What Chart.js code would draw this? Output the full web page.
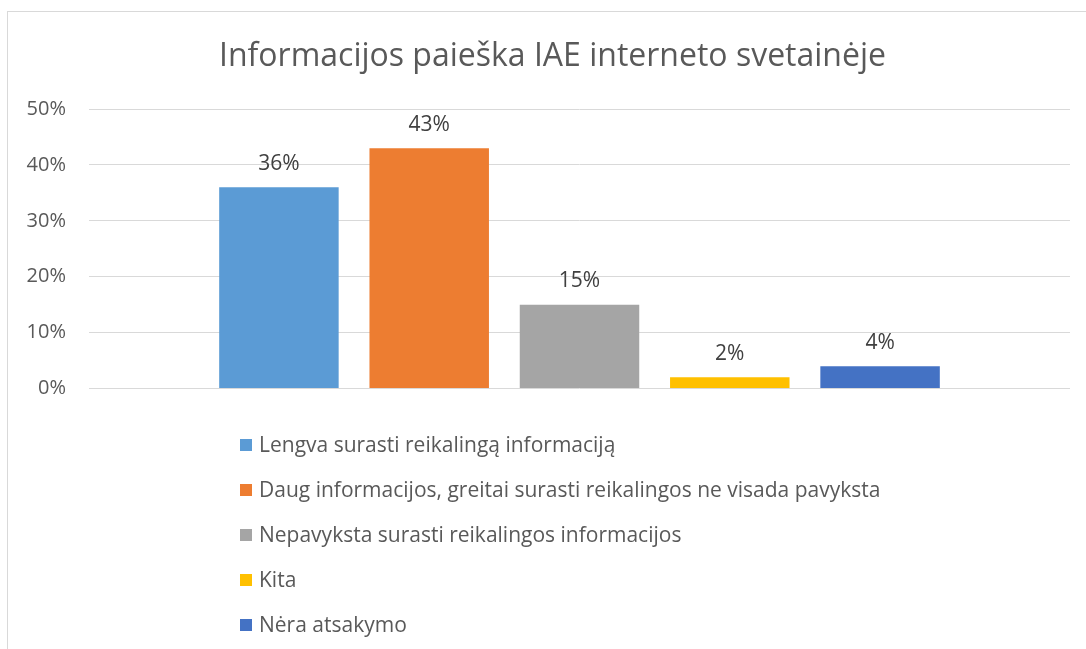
<!DOCTYPE html>
<html>
<head>
<meta charset="utf-8">
<script src="https://cdn.jsdelivr.net/npm/chart.js@4"></script>
<style>
  html, body { margin: 0; padding: 0; background: #fff; }
  #wrap { position: relative; width: 1086px; height: 649px; overflow: hidden; }
  #frame { position: absolute; left: 7px; top: 11px; width: 1200px; height: 800px;
           border-left: 1px solid #d9d9d9; border-top: 1px solid #d9d9d9; }
  #c { position: absolute; left: 0; top: 0; }
</style>
</head>
<body>
<div id="wrap">
  <div id="frame"></div>
  <canvas id="c" width="1086" height="649"></canvas>
</div>
<script>
const chartTitle = 'Informacijos paieška IAE interneto svetainėje';
const categories = [''];
const seriesNames = [
  'Lengva surasti reikalingą informaciją',
  'Daug informacijos, greitai surasti reikalingos ne visada pavyksta',
  'Nepavyksta surasti reikalingos informacijos',
  'Kita',
  'Nėra atsakymo'
];
const seriesValues = [36, 43, 15, 2, 4];
const seriesColors = ['#5B9BD5', '#ED7D31', '#A5A5A5', '#FFC000', '#4472C4'];
const yTickValues = [0, 10, 20, 30, 40, 50];

const FONT = '"Open Sans"';

const titlePlugin = {
  id: 'ownTitle',
  afterDraw(chart) {
    const ctx = chart.ctx;
    ctx.save();
    ctx.font = '32px ' + FONT;
    ctx.fillStyle = '#595959';
    ctx.textAlign = 'center';
    ctx.textBaseline = 'alphabetic';
    ctx.fillText(chartTitle, 552.5, 66);
    ctx.restore();
  }
};

const dataLabelPlugin = {
  id: 'dataLabels',
  afterDatasetsDraw(chart) {
    const ctx = chart.ctx;
    ctx.save();
    ctx.font = '21px ' + FONT;
    ctx.fillStyle = '#404040';
    ctx.textAlign = 'center';
    ctx.textBaseline = 'alphabetic';
    chart.data.datasets.forEach((ds, i) => {
      const meta = chart.getDatasetMeta(i);
      meta.data.forEach((bar, j) => {
        ctx.fillText(ds.data[j] + '%', bar.x, bar.y - 17.5);
      });
    });
    ctx.restore();
  }
};

const legendPlugin = {
  id: 'vLegend',
  afterDraw(chart) {
    const ctx = chart.ctx;
    ctx.save();
    ctx.font = '21px ' + FONT;
    ctx.textAlign = 'left';
    ctx.textBaseline = 'alphabetic';
    const x0 = 240, y0 = 444.5, step = 45, box = 12;
    chart.data.datasets.forEach((ds, i) => {
      const cy = y0 + step * i;
      ctx.fillStyle = ds.backgroundColor;
      ctx.fillRect(x0, Math.round(cy - box / 2), box, box);
      ctx.fillStyle = '#595959';
      ctx.fillText(ds.label, 259, cy + 7.5);
    });
    ctx.restore();
  }
};

new Chart(document.getElementById('c'), {
  type: 'bar',
  data: {
    labels: categories,
    datasets: seriesNames.map((name, i) => ({
      label: name,
      data: [seriesValues[i]],
      backgroundColor: seriesColors[i],
      borderWidth: 0,
      categoryPercentage: 0.766,
      barPercentage: 0.795
    }))
  },
  options: {
    responsive: false,
    animation: false,
    layout: { padding: { left: 0, right: 16, top: 109, bottom: 260.5 } },
    plugins: {
      legend: { display: false },
      tooltip: { enabled: false },
      title: { display: false }
    },
    scales: {
      x: { display: false },
      y: {
        min: 0,
        max: 50,
        afterBuildTicks(scale) { scale.ticks = yTickValues.map(v => ({ value: v })); },
        afterFit(scale) { scale.width = 89; },
        border: { display: false },
        grid: { color: '#d9d9d9', lineWidth: 1, drawTicks: false },
        ticks: {
          padding: 23,
          color: '#595959',
          font: { family: 'Open Sans', size: 20 },
          callback: v => v + '%'
        }
      }
    }
  },
  plugins: [titlePlugin, dataLabelPlugin, legendPlugin]
});
</script>
</body>
</html>
